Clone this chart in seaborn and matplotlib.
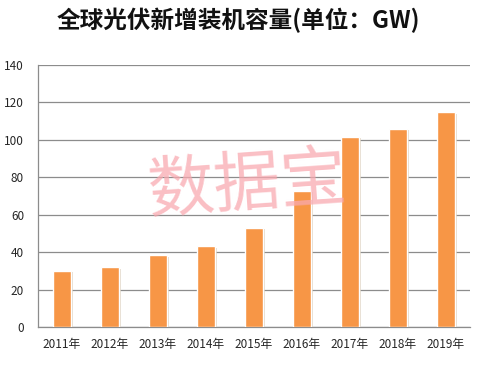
import matplotlib
matplotlib.use('Agg')
import matplotlib.pyplot as plt
import matplotlib.patheffects as pe
import seaborn as sns
import pandas as pd

# 数据
years = ['2011年', '2012年', '2013年', '2014年', '2015年', '2016年', '2017年', '2018年', '2019年']
capacity = [30, 32, 38.4, 43.2, 52.9, 72.8, 101.6, 105.8, 114.8]
yticks = [0, 20, 40, 60, 80, 100, 120, 140]

df = pd.DataFrame({'year': years, 'GW': capacity})

sns.set_style('white')
plt.rcParams['font.family'] = ['Noto Sans CJK SC', 'DejaVu Sans']

fig = plt.figure(figsize=(4.81, 3.65), dpi=100)
ax = fig.add_axes([38 / 481, 1 - 327 / 365, 432 / 481, 262 / 365])

sns.barplot(data=df, x='year', y='GW', color='#F79646', saturation=1, width=0.38, ax=ax, zorder=3)
for p in ax.patches:
    p.set_path_effects([pe.SimplePatchShadow(offset=(1.5, -1), shadow_rgbFace='#d9cbb8', alpha=0.7), pe.Normal()])

ax.set_ylim(0, 140)
ax.set_xlim(-0.5, len(years) - 0.5)
ax.set_yticks(yticks)
ax.yaxis.grid(True, color='#8c8c8c', linewidth=0.9, zorder=0)
ax.set_axisbelow(True)
ax.set_xlabel('')
ax.set_ylabel('')

for s in ['top', 'right']:
    ax.spines[s].set_visible(False)
for s in ['left', 'bottom']:
    ax.spines[s].set_color('#8c8c8c')
    ax.spines[s].set_linewidth(0.9)

# x轴刻度线放在类别边界
ax.set_xticks([i + 0.5 for i in range(-1, len(years))], minor=True)
ax.tick_params(axis='x', which='minor', length=4, color='#8c8c8c', direction='out')
ax.tick_params(axis='x', which='major', length=0, labelsize=8.5, pad=8)
ax.tick_params(axis='y', length=4, color='#8c8c8c', direction='out', labelsize=8.5, pad=6)

fig.text(0.495, 1 - 20 / 365, '全球光伏新增装机容量(单位：GW)', ha='center', va='center',
         fontsize=17, fontweight='bold', color='#111111')

# 水印
fig.text(247 / 481, 1 - 186 / 365, '数据宝', ha='center', va='center', fontsize=48,
         fontweight='light', color='#f9a9b0', alpha=0.75, rotation=4, zorder=10)

fig.savefig('out.png', dpi=100)
